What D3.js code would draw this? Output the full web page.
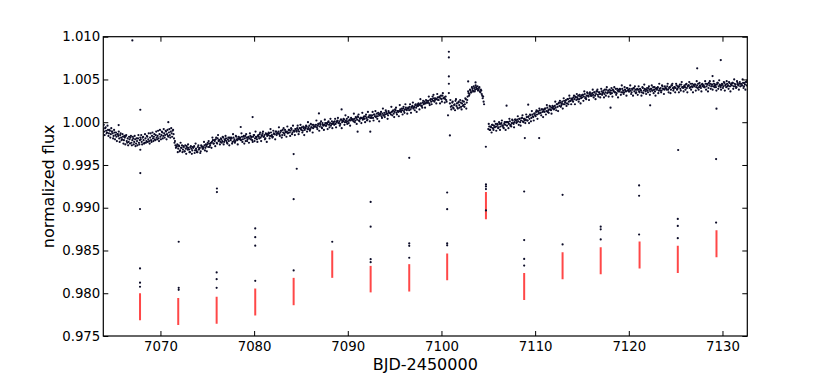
<!DOCTYPE html>
<html>
<head>
<meta charset="utf-8">
<script src="https://cdn.jsdelivr.net/npm/d3@7"></script>
<style>
  body { margin: 0; background: #fff; }
  svg { display: block; font-family: "DejaVu Sans", sans-serif; }
</style>
</head>
<body>
<svg id="chart"></svg>
<script>
// light curve, flux offsets in units of 1e-4 (flux = 1 + v/1e4), one point per cadence.
// each segment is read twice, the second pass sits half a cadence later.
const cadence = 0.1;
const startA = 7063.9;
const fluxA = [-8,-11,-7,-10,-12,-9,-13,-10,-14,-11,
  -13,-16,-12,-15,-17,-14,-16,-19,-15,-18,
  -20,-17,-21,-18,-16,-22,-19,-23,-20,-18,
  -24,-21,-19,-23,-20,-25,-22,-19,-24,-21,
  -20,-23,-18,-21,-24,-19,-22,-17,-20,-22,
  -18,-21,-16,-19,-17,-20,-15,-18,-16,-19,
  -14,-17,-15,-12,-16,-13,-15,-11,-14,-16,
  -12,-15,-11,-13,-10,-14];
const fluxA2 = [-3,-15,-6,-13,-4,-16,-9,-18,-7,-11,
  -19,-9,-20,-12,-22,-14,-11,-23,-13,-21,
  -14,-25,-16,-26,-15,-24,-27,-17,-25,-16,
  -27,-17,-26,-16,-28,-19,-27,-15,-26,-18,
  -15,-26,-17,-25,-14,-24,-16,-23,-13,-25,
  -13,-23,-12,-22,-14,-21,-11,-20,-10,-22,
  -9,-20,-11,-19,-8,-18,-10,-20,-9,-17,
  -8,-18,-7,-17,-9,-19];
const startB = 7071.5;
const fluxB = [-24,-27,-29,-26,-31,-28,-33,-30,-27,-32,
  -29,-34,-31,-28,-32,-30,-35,-29,-31,-33,
  -30,-28,-33,-31,-35,-29,-32,-30,-34,-28,
  -31,-29,-27,-30,-28,-26,-29,-25,-27,-24,
  -23,-21,-25,-22,-20,-24,-19,-22,-21,-23,
  -20,-22,-18,-23,-21,-19,-24,-20,-22,-18,
  -21,-19,-23,-18,-20,-22,-17,-21,-19,-20,
  -18,-21,-17,-20,-16,-19,-22,-18,-20,-17,
  -19,-16,-18,-21,-17,-15,-19,-17,-20,-16,
  -17,-14,-18,-16,-13,-17,-15,-19,-14,-16,
  -15,-13,-16,-12,-15,-17,-13,-14,-11,-15,
  -13,-11,-14,-12,-10,-15,-12,-13,-9,-12,
  -11,-13,-9,-12,-10,-8,-12,-10,-11,-8,
  -10,-7,-9,-11,-7,-8,-6,-10,-7,-9,
  -7,-5,-8,-6,-4,-8,-6,-3,-7,-5,
  -5,-3,-6,-4,-2,-5,-3,-6,-1,-4,
  -3,-1,-4,-2,0,-3,-1,-4,1,-2,
  -1,1,-2,0,2,-1,1,-2,3,0,
  1,3,0,2,4,1,-1,3,2,4,
  3,1,4,2,5,3,6,2,4,5,
  5,3,6,4,7,5,3,6,8,5,
  6,8,5,9,7,6,10,7,9,8,
  9,7,10,8,11,9,12,10,8,11,
  11,9,12,13,10,12,14,11,13,12,
  13,15,12,14,16,13,15,17,14,16,
  16,18,15,17,19,16,18,20,17,19,
  19,21,20,22,19,23,21,24,22,23,
  23,25,22,26,24,27,25,28,26,27,
  27,29,26,30,28,27,31,28,29,27,
  26];
const fluxB2 = [-22,-30,-28,-35,-27,-34,-24,-30,-35,-28,
  -34,-27,-37,-30,-26,-32,-35,-28,-37,-29,
  -29,-36,-25,-33,-35,-27,-31,-36,-27,-29,
  -31,-23,-33,-26,-34,-24,-22,-29,-25,-30,
  -18,-25,-21,-28,-18,-25,-15,-21,-26,-19,
  -24,-17,-26,-20,-16,-22,-25,-18,-27,-19,
  -18,-25,-14,-22,-24,-16,-20,-26,-17,-19,
  -20,-13,-23,-17,-25,-16,-14,-22,-18,-24,
  -13,-20,-17,-23,-15,-22,-11,-18,-23,-15,
  -19,-12,-22,-15,-11,-17,-20,-13,-23,-14,
  -12,-19,-8,-16,-18,-10,-14,-20,-11,-13,
  -13,-6,-16,-10,-18,-9,-7,-15,-11,-17,
  -5,-12,-9,-16,-7,-14,-4,-10,-15,-8,
  -11,-4,-14,-7,-3,-9,-12,-5,-15,-6,
  -4,-11,0,-8,-10,-2,-6,-12,-3,-5,
  -5,2,-8,-2,-10,-1,1,-7,-3,-9,
  3,-4,-1,-8,1,-6,4,-2,-7,0,
  -3,4,-6,1,5,-1,-4,3,-7,2,
  4,-3,8,0,-2,6,2,-4,5,3,
  3,10,0,6,-2,7,9,1,5,-1,
  11,4,7,0,9,2,12,6,1,8,
  5,12,2,9,13,7,4,11,1,10,
  12,5,16,8,6,14,10,4,13,11,
  11,18,8,14,6,15,17,9,13,7,
  20,13,16,9,18,11,21,15,10,17,
  14,21,11,18,23,17,14,21,12,21,
  22,15,27,19,17,25,22,17,26,25,
  23,30,20,27,21,30,32,24,28,22,
  33,26,29,22,31,24,34,28,23,30,
  24];
const startC = 7100.9;
const fluxC = [22,18,19,24,16,21,25,19,17,23,
  20,26,18,22,19,24,21,27,23,
  30,34,33,37,35,39,36,40,38,41,
  39,37,40,36,38,33,28,24];
const fluxC2 = [26,15,23,17,20,14,27,22,16,24,
  17,23,15,25,20,18,28,16,26,
  36,31,38,35,41,37,42,36,43,39,
  42,38,41,35,37,31,30,21];
const startD = 7105.0;
const fluxD = [-8,-5,-9,-6,-3,-7,-4,-6,-2,-5,
  -3,-6,-2,-5,-1,-4,-6,-2,-3,0,
  -4,0,-2,1,-3,-1,2,-2,0,3,
  -1,3,1,4,0,2,5,1,4,2,
  3,6,2,7,4,8,5,9,6,10,
  8,12,9,13,10,14,11,15,12,13,
  12,16,13,17,14,15,18,14,17,16,
  15,19,17,21,18,22,19,23,20,24,
  21,25,23,26,22,27,24,28,25,27,
  26,29,27,30,26,29,31,27,30,28,
  29,32,30,33,29,31,34,30,33,31,
  31,34,32,35,31,33,36,32,35,33,
  33,36,34,37,33,35,38,34,37,35,
  35,37,34,38,36,35,39,34,37,36,
  36,38,35,39,37,35,38,36,40,37,
  36,39,37,35,38,40,36,38,35,39,
  38,36,39,37,35,40,37,39,36,38,
  37,40,38,36,39,37,41,38,36,39,
  38,41,37,39,40,37,42,39,38,40,
  39,42,38,40,41,38,43,40,39,41,
  40,43,39,41,42,39,44,41,40,42,
  41,44,40,42,43,40,45,42,41,43,
  42,44,41,43,45,41,43,40,44,42,
  43,41,45,42,44,40,43,45,42,44,
  42,45,43,41,44,46,42,44,41,43,
  44,42,46,43,41,45,43,47,42,44,
  43,46,42,45,44,41,46,43,45,42,
  45,43,46,42,44,47,43];
const fluxD2 = [-2,-9,-5,-12,-3,-9,1,-5,-10,-2,
  -7,0,-9,-2,2,-4,-7,0,-9,0,
  0,-7,4,-4,-5,3,-1,-6,3,2,
  0,7,-3,4,-4,5,8,0,4,-1,
  9,2,6,-1,9,1,13,7,2,10,
  7,14,4,12,16,11,8,15,6,15,
  16,9,20,12,11,19,15,10,19,18,
  16,24,14,21,13,23,25,18,22,16,
  28,21,25,19,27,21,31,25,21,28,
  24,31,21,29,33,27,24,32,22,31,
  32,25,36,28,27,35,31,26,35,33,
  31,38,29,35,27,36,38,30,35,29,
  39,32,35,29,38,31,41,35,30,38,
  33,40,30,37,41,35,32,39,29,38,
  39,32,43,35,33,41,37,31,40,38,
  36,43,33,39,31,40,42,34,38,32,
  42,35,38,31,41,34,44,38,33,40,
  35,42,32,39,43,37,34,41,31,40,
  40,34,45,37,35,43,39,33,42,40,
  38,45,35,41,34,43,45,37,41,35,
  45,38,42,35,44,37,47,41,36,43,
  38,45,35,43,47,41,38,45,35,44,
  44,37,48,40,38,46,42,36,45,43,
  41,48,38,45,36,46,48,39,44,38,
  48,41,44,37,46,39,49,43,38,45,
  40,47,37,44,48,42,39,46,36,45,
  46,39,50,42,40,48,44,38,47,45,
  43,50,40,46,38,47,49];

// isolated points (mostly in-transit)
const outlierTime = [7067.0, 7067.85, 7065.54, 7070.84, 7067.85, 7067.85, 7067.82, 7067.82, 7067.82, 7067.82,
  7071.95, 7071.95, 7071.95, 7076.03, 7076.03, 7076.0, 7076.0, 7076.0, 7079.84, 7078.57,
  7080.12, 7080.12, 7080.12, 7080.12, 7084.22, 7084.55, 7084.22, 7084.22, 7088.34, 7092.44,
  7092.44, 7092.44, 7092.44, 7096.56, 7096.56, 7096.56, 7096.56, 7100.79, 7100.79, 7100.79,
  7100.79, 7100.79, 7100.7, 7100.9, 7100.61, 7100.61, 7100.61, 7100.61, 7102.85, 7103.64,
  7104.74, 7104.75, 7104.75, 7104.75, 7104.75, 7106.95, 7109.26, 7108.9, 7110.43, 7108.83,
  7108.83, 7108.83, 7108.83, 7112.93, 7112.93, 7117.0, 7117.0, 7117.0, 7121.1, 7121.1,
  7121.1, 7125.23, 7125.23, 7125.23, 7129.32, 7129.82, 7127.3, 7128.94, 7129.36, 7129.32,
  7125.27, 7122.28, 7118.05, 7086.92, 7089.34, 7091.05, 7092.4];
const outlierFlux = [1.00957, 1.00146, 0.99967, 1.0000, 0.99678, 0.99405, 0.98985, 0.98290, 0.98123, 0.98076,
  0.98602, 0.98063, 0.98040, 0.99225, 0.99183, 0.98243, 0.98165, 0.98063, 1.0006, 0.99944,
  0.98758, 0.98656, 0.98556, 0.98145, 0.99628, 0.99456, 0.9910, 0.98267, 0.98602, 0.99068,
  0.98778, 0.98398, 0.98363, 0.99584, 0.98582, 0.98555, 0.98415, 1.00824, 1.00758, 1.00535,
  1.0045, 1.00341, 1.0008, 0.99845, 0.99178, 0.98983, 0.98583, 0.98560, 1.00477, 1.00465,
  0.99713, 0.99272, 0.99249, 0.99218, 0.98969, 1.00193, 1.00205, 0.99815, 0.99815, 0.9919,
  0.98622, 0.98401, 0.98323, 0.99151, 0.98571, 0.98778, 0.98748, 0.98629, 0.99261, 0.9914,
  0.98687, 0.98869, 0.98787, 0.98644, 0.98826, 1.00727, 1.0063, 1.0054, 1.00158, 0.99569,
  0.99675, 1.00197, 1.0017, 1.00103, 1.0015, 0.99889, 0.99889];

// transit markers
const transitTime = [7067.82, 7071.90, 7076.00, 7080.12, 7084.22, 7088.34, 7092.44, 7096.56,
  7100.61, 7104.75, 7108.83, 7112.93, 7117.00, 7121.15, 7125.23, 7129.36];
const transitTop = [0.9800, 0.97945, 0.9796, 0.98055, 0.9818, 0.9850, 0.9832, 0.9834,
  0.98465, 0.99183, 0.98238, 0.9848, 0.98539, 0.98605, 0.98554, 0.98738];
const transitBottom = [0.97685, 0.97628, 0.97643, 0.9774, 0.9786, 0.9818, 0.9801, 0.9802,
  0.98152, 0.98866, 0.97922, 0.98164, 0.98222, 0.98289, 0.98238, 0.98422];

const xTicks = [7070, 7080, 7090, 7100, 7110, 7120, 7130];
const yTicks = [0.975, 0.980, 0.985, 0.990, 0.995, 1.000, 1.005, 1.010];

const width = 830, height = 374;
const margin = {top: 36.7, right: 82.7, bottom: 38, left: 103.3};
const iw = width - margin.left - margin.right;
const ih = height - margin.top - margin.bottom;

// build point table from the segments
let points = [];
const segments = [
  [startA, fluxA], [startA + cadence / 2, fluxA2],
  [startB, fluxB], [startB + cadence / 2, fluxB2],
  [startC, fluxC], [startC + cadence / 2, fluxC2],
  [startD, fluxD], [startD + cadence / 2, fluxD2]
];
segments.forEach(([t0, vals]) => {
  vals.forEach((v, i) => points.push({t: t0 + i * cadence, f: 1 + v / 1e4}));
});
outlierTime.forEach((t, i) => points.push({t: t, f: outlierFlux[i]}));

const svg = d3.select('#chart').attr('width', width).attr('height', height);
const g = svg.append('g').attr('transform', `translate(${margin.left},${margin.top})`);

const x = d3.scaleLinear().domain([7063.9, 7132.65]).range([0, iw]);
const y = d3.scaleLinear().domain([0.975, 1.010]).range([ih, 0]);

g.append('clipPath').attr('id', 'clip')
  .append('rect').attr('width', iw).attr('height', ih);

const plot = g.append('g').attr('clip-path', 'url(#clip)');

plot.selectAll('line.transit')
  .data(transitTime)
  .enter().append('line')
  .attr('class', 'transit')
  .attr('x1', d => x(d)).attr('x2', d => x(d))
  .attr('y1', (d, i) => y(transitTop[i]))
  .attr('y2', (d, i) => y(transitBottom[i]))
  .attr('stroke', '#ff0000')
  .attr('stroke-opacity', 0.72)
  .attr('stroke-width', 2);

plot.selectAll('circle')
  .data(points)
  .enter().append('circle')
  .attr('cx', d => x(d.t))
  .attr('cy', d => y(d.f))
  .attr('r', 1.1)
  .attr('fill', '#0c0c28');

// axes, ticks pointing inward on all sides
const fmt = d3.format('.3f');
const styleAxis = sel => {
  sel.select('.domain').remove();
  sel.selectAll('.tick line').attr('stroke', '#000').attr('stroke-width', 1);
  sel.selectAll('.tick text').attr('fill', '#000').style('font-size', '13.3px')
    .style('font-family', '"DejaVu Sans", sans-serif');
};

g.append('g').attr('transform', `translate(0,${ih})`)
  .call(d3.axisBottom(x).tickValues(xTicks).tickFormat(d3.format('d')).tickSize(-5).tickPadding(6))
  .call(styleAxis);
g.append('g')
  .call(d3.axisTop(x).tickValues(xTicks).tickSize(-5).tickFormat(''))
  .call(styleAxis);
g.append('g')
  .call(d3.axisLeft(y).tickValues(yTicks).tickFormat(fmt).tickSize(-5).tickPadding(3))
  .call(styleAxis);
g.append('g').attr('transform', `translate(${iw},0)`)
  .call(d3.axisRight(y).tickValues(yTicks).tickSize(-5).tickFormat(''))
  .call(styleAxis);

g.append('rect')
  .attr('width', iw).attr('height', ih)
  .attr('fill', 'none').attr('stroke', '#000').attr('stroke-width', 1.2);

svg.append('text')
  .attr('x', margin.left + iw / 2).attr('y', 370)
  .attr('text-anchor', 'middle')
  .style('font-size', '16px')
  .text('BJD-2450000');

svg.append('text')
  .attr('transform', `translate(53.5,${margin.top + ih / 2}) rotate(-90)`)
  .attr('text-anchor', 'middle')
  .style('font-size', '16px')
  .text('normalized flux');
</script>
</body>
</html>
